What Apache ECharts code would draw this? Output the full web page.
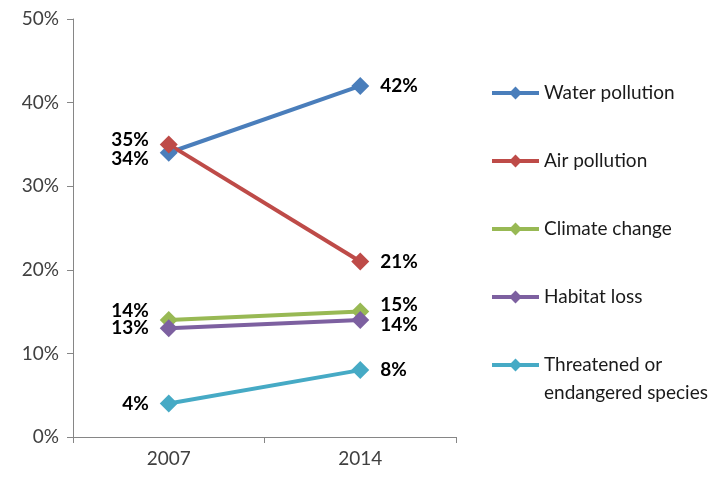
<!DOCTYPE html>
<html>
<head>
<meta charset="utf-8">
<script src="https://cdn.jsdelivr.net/npm/echarts@6/dist/echarts.min.js"></script>
<style>
    html, body { margin: 0; padding: 0; background: #fff; }
    #chart { width: 728px; height: 477px; }
</style>
</head>
<body>
<div id="chart"></div>
<script>
const years = ['2007', '2014'];
const yTicks = [0, 10, 20, 30, 40, 50];

const waterPollution = [34, 42];
const airPollution = [35, 21];
const climateChange = [14, 15];
const habitatLoss = [13, 14];
const threatenedSpecies = [4, 8];

const names = ['Water pollution', 'Air pollution', 'Climate change', 'Habitat loss', 'Threatened or endangered species'];
const values = [waterPollution, airPollution, climateChange, habitatLoss, threatenedSpecies];
const colors = ['#4A7EBB', '#BE4B48', '#98B954', '#7D60A0', '#46AAC5'];

// label nudges so overlapping labels don't collide (per series, per year)
const labelShift = [
    [[0, 6], [0, 0]],
    [[0, -5], [0, 0]],
    [[0, -9], [0, -7]],
    [[0, 0], [0, 5]],
    [[0, 0], [0, 0]],
];
const legendCenters = [93, 161, 229, 297, 365];

const font = 'Lato, "Open Sans", sans-serif';

const series = names.map((name, i) => ({
    name: name,
    type: 'line',
    data: values[i].map((v, j) => ({
        value: v,
        label: {
            position: j === 0 ? 'left' : 'right',
            offset: labelShift[i][j],
        },
    })),
    symbol: 'diamond',
    symbolSize: 18,
    color: colors[i],
    lineStyle: { width: 4, color: colors[i] },
    itemStyle: { color: colors[i] },
    label: {
        show: true,
        distance: 11,
        formatter: '{c}%',
        color: '#000',
        fontWeight: 'bold',
        fontSize: 19,
        fontFamily: font,
    },
    emphasis: { disabled: true },
    animation: false,
}));

const legends = names.map((name, i) => {
    const last = i === names.length - 1;
    return {
        data: [name],
        orient: 'vertical',
        left: 490,
        // last entry: blank first line keeps the icon level with "Threatened or"
        top: last ? legendCenters[i] - 42 : legendCenters[i] - 11,
        padding: 0,
        itemWidth: 47,
        itemHeight: 16,
        itemGap: 0,
        itemTextGap: 4,
        selectedMode: false,
        lineStyle: { width: 4 },
        formatter: last ? ' \nThreatened or\nendangered species' : '{name}',
        textStyle: {
            color: '#1a1a1a',
            fontSize: 19,
            fontFamily: font,
            lineHeight: last ? 28 : 22,
        },
    };
});

const chart = echarts.init(document.getElementById('chart'));
chart.setOption({
    backgroundColor: '#fff',
    animation: false,
    grid: { left: 73, right: 272, top: 19, bottom: 40 },
    legend: legends,
    xAxis: {
        type: 'category',
        data: years,
        boundaryGap: true,
        axisLine: { lineStyle: { color: '#868686', width: 1 } },
        axisTick: { show: true, length: 6, lineStyle: { color: '#868686' } },
        axisLabel: { color: '#404040', fontSize: 19, fontFamily: font, margin: 12 },
    },
    yAxis: {
        type: 'value',
        min: yTicks[0],
        max: yTicks[yTicks.length - 1],
        interval: yTicks[1] - yTicks[0],
        axisLine: { show: true, lineStyle: { color: '#868686', width: 1 } },
        axisTick: { show: true, length: 6, lineStyle: { color: '#868686' } },
        splitLine: { show: false },
        axisLabel: { color: '#404040', fontSize: 19, fontFamily: font, margin: 14, formatter: '{value}%' },
    },
    series: series,
});
</script>
</body>
</html>
